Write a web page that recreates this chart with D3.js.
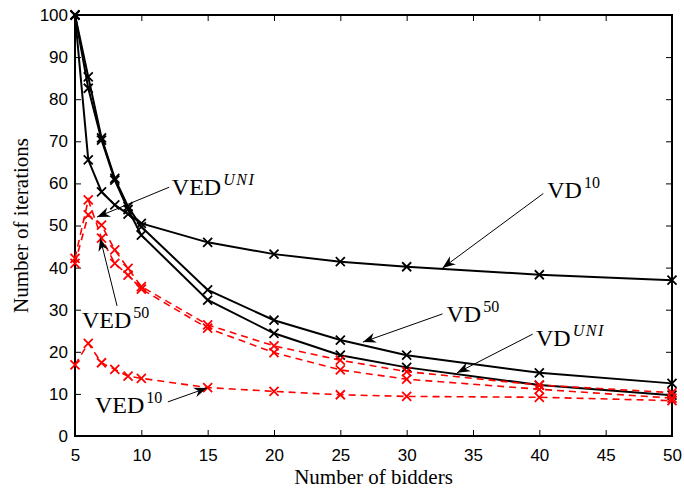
<!DOCTYPE html>
<html>
<head>
<meta charset="utf-8">
<script src="https://d3js.org/d3.v7.min.js"></script>
<style>
  body { margin: 0; background: #fff; }
  svg text { fill: #000; }
</style>
</head>
<body>
<div id="chart"></div>
<script>
// x values (number of bidders)
const bidders = [5, 6, 7, 8, 9, 10, 15, 20, 25, 30, 40, 50];

// black solid series
const vd10  = [100, 65.6, 58.0, 54.9, 52.7, 50.5, 46.0, 43.2, 41.4, 40.2, 38.3, 37.0];
const vd50  = [100, 85.3, 70.8, 61.2, 54.5, 49.7, 34.7, 27.5, 22.8, 19.2, 15.0, 12.5];
const vduni = [100, 82.6, 70.3, 60.8, 53.8, 47.7, 32.3, 24.4, 19.2, 16.3, 12.1, 9.7];

// red dashed series
const ved10  = [16.9, 22.0, 17.4, 15.8, 14.2, 13.7, 11.5, 10.6, 9.8, 9.4, 9.2, 8.4];
const ved50  = [42.2, 56.1, 47.0, 41.0, 38.2, 34.9, 25.6, 19.8, 15.7, 13.5, 11.1, 9.0];
const veduni = [41.0, 52.5, 50.1, 44.2, 39.8, 35.5, 26.4, 21.4, 18.0, 15.3, 12.1, 10.3];

const xTicks = [5, 10, 15, 20, 25, 30, 35, 40, 45, 50];
const yTicks = [0, 10, 20, 30, 40, 50, 60, 70, 80, 90, 100];

// annotations: label, superscript, italic sup?, text pos, arrow from, arrow to (data units)
const notes = [
  {base: "VD",  sup: "10",  it: false, tx: 40.6, ty: 56.5, x1: 40.3, y1: 57.6, x2: 32.7, y2: 39.9},
  {base: "VD",  sup: "50",  it: false, tx: 33.0, ty: 27.1, x1: 32.7, y1: 29.0, x2: 26.7, y2: 22.3},
  {base: "VD",  sup: "UNI", it: true,  tx: 39.75, ty: 21.4, x1: 39.5, y1: 24.2, x2: 33.8, y2: 15.0},
  {base: "VED", sup: "UNI", it: true,  tx: 12.3, ty: 57.2, x1: 12.1, y1: 59.1, x2: 6.66, y2: 52.0},
  {base: "VED", sup: "50",  it: false, tx: 5.53, ty: 25.7, x1: 8.17, y1: 30.9, x2: 6.9, y2: 47.0},
  {base: "VED", sup: "10",  it: false, tx: 6.5, ty: 5.5, x1: 12.0, y1: 8.1, x2: 14.95, y2: 11.4}
];

const W = 684, H = 492;
const margin = {top: 15, right: 12, bottom: 56, left: 75};
const width = W - margin.left - margin.right,
      height = H - margin.top - margin.bottom;

const svg = d3.select("#chart").append("svg")
    .attr("width", W)
    .attr("height", H);

const defs = svg.append("defs");
defs.append("marker")
    .attr("id", "arrow")
    .attr("viewBox", "-14 -6 16 12")
    .attr("refX", 0).attr("refY", 0)
    .attr("markerUnits", "userSpaceOnUse")
    .attr("markerWidth", 16).attr("markerHeight", 12)
    .attr("orient", "auto")
    .append("path")
    .attr("d", "M0,0 L-13,-5 L-9,0 L-13,5 Z")
    .attr("fill", "#000");

const g = svg.append("g")
    .attr("transform", "translate(" + margin.left + "," + margin.top + ")");

const x = d3.scaleLinear().domain([5, 50]).range([0, width]);
const y = d3.scaleLinear().domain([0, 100]).range([height, 0]);

// axes: ticks inward on all four sides
const tickFont = "'Liberation Sans', Arial, sans-serif";
const bottomAxis = g.append("g")
    .attr("transform", "translate(0," + height + ")")
    .call(d3.axisBottom(x).tickValues(xTicks).tickSize(-6).tickPadding(10));
const leftAxis = g.append("g")
    .call(d3.axisLeft(y).tickValues(yTicks).tickSize(-6).tickPadding(7));
const topAxis = g.append("g")
    .call(d3.axisTop(x).tickValues(xTicks).tickSize(-6).tickFormat(""));
const rightAxis = g.append("g")
    .attr("transform", "translate(" + width + ",0)")
    .call(d3.axisRight(y).tickValues(yTicks).tickSize(-6).tickFormat(""));

[bottomAxis, leftAxis, topAxis, rightAxis].forEach(a => {
  a.select(".domain").remove();
  a.selectAll(".tick line").attr("stroke", "#000").attr("stroke-width", 1);
  a.selectAll("text")
    .style("font-family", tickFont)
    .style("font-size", "17px")
    .attr("fill", "#000");
});
bottomAxis.selectAll("text").attr("dy", "0.9em");

// box
g.append("rect")
    .attr("x", 0).attr("y", 0)
    .attr("width", width).attr("height", height)
    .attr("fill", "none")
    .attr("stroke", "#000")
    .attr("stroke-width", 2);

const line = d3.line()
    .x(d => x(d[0]))
    .y(d => y(d[1]));

function drawSeries(vals, color, dash, lw) {
  const pts = bidders.map((b, i) => [b, vals[i]]);
  g.append("path")
      .datum(pts)
      .attr("d", line)
      .attr("fill", "none")
      .attr("stroke", color)
      .attr("stroke-width", lw)
      .attr("stroke-dasharray", dash);
  const s = 4.5;
  g.append("g").selectAll("path")
      .data(pts)
      .enter().append("path")
      .attr("d", d => {
        const cx = x(d[0]), cy = y(d[1]);
        return "M" + (cx - s) + "," + (cy - s) + "L" + (cx + s) + "," + (cy + s) +
               "M" + (cx - s) + "," + (cy + s) + "L" + (cx + s) + "," + (cy - s);
      })
      .attr("stroke", color)
      .attr("stroke-width", 1.8)
      .attr("fill", "none");
}

drawSeries(vd10, "#000", null, 2);
drawSeries(vd50, "#000", null, 2);
drawSeries(vduni, "#000", null, 2);
drawSeries(ved10, "#ff0000", "7,5", 1.6);
drawSeries(ved50, "#ff0000", "7,5", 1.6);
drawSeries(veduni, "#ff0000", "7,5", 1.6);

// annotations
const serif = "'Liberation Serif', 'DejaVu Serif', serif";
notes.forEach(n => {
  g.append("line")
      .attr("x1", x(n.x1)).attr("y1", y(n.y1))
      .attr("x2", x(n.x2)).attr("y2", y(n.y2))
      .attr("stroke", "#000")
      .attr("stroke-width", 1)
      .attr("marker-end", "url(#arrow)");
  const t = g.append("text")
      .attr("x", x(n.tx)).attr("y", y(n.ty))
      .style("font-family", serif)
      .style("font-size", "24px");
  t.append("tspan").text(n.base);
  t.append("tspan")
      .attr("dx", 2)
      .attr("dy", -10)
      .style("font-size", "16px")
      .style("font-style", n.it ? "italic" : "normal")
      .style("letter-spacing", n.it ? "1.5px" : "0px")
      .text(n.sup);
});

// axis titles
svg.append("text")
    .attr("x", margin.left + width / 2)
    .attr("y", 484)
    .attr("text-anchor", "middle")
    .style("font-family", serif)
    .style("font-size", "21px")
    .text("Number of bidders");

svg.append("text")
    .attr("transform", "translate(28," + (margin.top + height / 2) + ") rotate(-90)")
    .attr("text-anchor", "middle")
    .style("font-family", serif)
    .style("font-size", "21px")
    .text("Number of iterations");
</script>
</body>
</html>
